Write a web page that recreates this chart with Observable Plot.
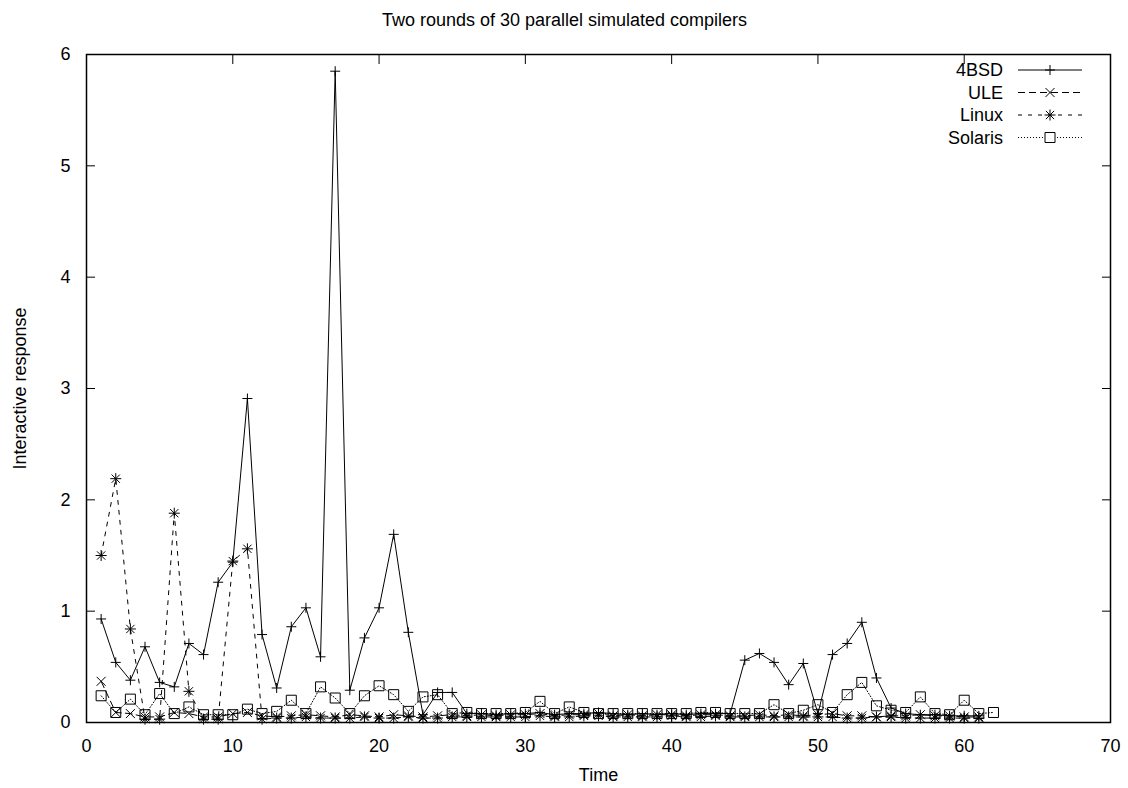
<!DOCTYPE html>
<html>
<head>
<meta charset="utf-8">
<script src="https://cdn.jsdelivr.net/npm/d3@7"></script>
<script src="https://cdn.jsdelivr.net/npm/@observablehq/plot@0.6"></script>
<style>
  html, body { margin: 0; padding: 0; background: #fff; }
  #wrap { position: relative; width: 1128px; height: 788px; }
  #wrap svg { position: absolute; left: 0; top: 0; }
</style>
</head>
<body>
<div id="wrap"></div>
<script>
const title = "Two rounds of 30 parallel simulated compilers";
const xLabel = "Time";
const yLabel = "Interactive response";
const xTicks = [0, 10, 20, 30, 40, 50, 60, 70];
const yTicks = [0, 1, 2, 3, 4, 5, 6];
const seriesNames = ["4BSD", "ULE", "Linux", "Solaris"];

const time = [1,2,3,4,5,6,7,8,9,10,11,12,13,14,15,16,17,18,19,20,21,22,23,24,25,26,27,28,29,30,
  31,32,33,34,35,36,37,38,39,40,41,42,43,44,45,46,47,48,49,50,51,52,53,54,55,56,57,58,59,60,61];
const timeSolaris = [1,2,3,4,5,6,7,8,9,10,11,12,13,14,15,16,17,18,19,20,21,22,23,24,25,26,27,28,29,30,
  31,32,33,34,35,36,37,38,39,40,41,42,43,44,45,46,47,48,49,50,51,52,53,54,55,56,57,58,59,60,61,62];

const bsd = [0.93,0.54,0.38,0.68,0.36,0.32,0.71,0.61,1.26,1.44,2.91,0.79,0.31,0.86,1.03,0.59,5.85,0.29,0.76,1.03,
  1.69,0.81,0.07,0.27,0.27,0.08,0.08,0.07,0.08,0.08,0.09,0.07,0.08,0.08,0.09,0.08,0.07,0.08,0.07,0.08,
  0.07,0.08,0.08,0.08,0.56,0.62,0.54,0.34,0.53,0.08,0.61,0.71,0.90,0.40,0.13,0.08,0.07,0.07,0.06,0.06,0.06];
const ule = [0.37,0.09,0.08,0.05,0.05,0.09,0.08,0.05,0.05,0.08,0.09,0.06,0.05,0.06,0.07,0.06,0.05,0.07,0.06,0.05,
  0.07,0.06,0.05,0.06,0.07,0.06,0.07,0.06,0.07,0.07,0.08,0.06,0.07,0.07,0.08,0.06,0.07,0.06,0.07,0.07,
  0.06,0.07,0.07,0.06,0.06,0.07,0.06,0.07,0.06,0.07,0.08,0.06,0.06,0.05,0.06,0.06,0.07,0.06,0.06,0.05,0.05];
const linux = [1.50,2.19,0.84,0.03,0.03,1.88,0.28,0.03,0.03,1.45,1.56,0.03,0.04,0.04,0.05,0.04,0.04,0.04,0.05,0.04,
  0.04,0.05,0.04,0.04,0.05,0.05,0.05,0.05,0.05,0.05,0.06,0.05,0.05,0.06,0.06,0.05,0.05,0.05,0.05,0.06,
  0.05,0.05,0.06,0.05,0.05,0.05,0.05,0.05,0.05,0.05,0.05,0.04,0.04,0.05,0.05,0.04,0.04,0.04,0.04,0.04,0.04];
const solaris = [0.24,0.09,0.21,0.07,0.26,0.08,0.14,0.07,0.07,0.07,0.12,0.08,0.10,0.20,0.08,0.32,0.22,0.08,0.24,0.33,
  0.25,0.10,0.23,0.25,0.08,0.09,0.08,0.08,0.08,0.09,0.19,0.08,0.14,0.09,0.08,0.08,0.08,0.08,0.08,0.08,
  0.08,0.09,0.09,0.08,0.08,0.08,0.16,0.08,0.11,0.16,0.09,0.25,0.36,0.15,0.11,0.09,0.23,0.08,0.07,0.20,0.08,0.09];

// gnuplot-like point symbols (r = half size in px)
const gpPlus = { draw(c, size) { const r = Math.sqrt(size / Math.PI); c.moveTo(-r, 0); c.lineTo(r, 0); c.moveTo(0, -r); c.lineTo(0, r); } };
const gpTimes = { draw(c, size) { const r = Math.sqrt(size / Math.PI); c.moveTo(-r, -r); c.lineTo(r, r); c.moveTo(-r, r); c.lineTo(r, -r); } };
const gpStar = { draw(c, size) { const r = Math.sqrt(size / Math.PI); const d = r * 0.75; c.moveTo(-r, 0); c.lineTo(r, 0); c.moveTo(0, -r); c.lineTo(0, r); c.moveTo(-d, -d); c.lineTo(d, d); c.moveTo(-d, d); c.lineTo(d, -d); } };
const gpSquare = { draw(c, size) { const r = Math.sqrt(size / Math.PI); c.moveTo(-r, -r); c.lineTo(r, -r); c.lineTo(r, r); c.lineTo(-r, r); c.closePath(); } };

const styles = [
  { symbol: gpPlus, r: 5, dash: null },
  { symbol: gpTimes, r: 4.5, dash: "7,4" },
  { symbol: gpStar, r: 5.5, dash: "4,6" },
  { symbol: gpSquare, r: 5, dash: "1,2" }
];

const mk = (xs, ys) => xs.map((t, i) => ({ t, v: ys[i] }));
const datasets = [mk(time, bsd), mk(time, ule), mk(time, linux), mk(timeSolaris, solaris)];

const font = "'Liberation Sans', Arial, Helvetica, sans-serif";
const FS = 18;

const marks = [
  Plot.frame({ stroke: "black", strokeWidth: 1.5 }),
  Plot.axisX({ anchor: "bottom", ticks: xTicks, tickSize: -9, tickPadding: 26, tickFormat: d3.format("d"), label: null, fontSize: FS }),
  Plot.axisX({ anchor: "top", ticks: xTicks, tickSize: -9, tickFormat: () => "", label: null }),
  Plot.axisY({ anchor: "left", ticks: yTicks, tickSize: -9, tickPadding: 25, tickFormat: d3.format("d"), label: null, fontSize: FS }),
  Plot.axisY({ anchor: "right", ticks: yTicks, tickSize: -9, tickFormat: () => "", label: null }),
  Plot.text([title], { frameAnchor: "top", dy: -34, dx: -34, fontSize: FS, textAnchor: "middle", lineAnchor: "middle" }),
  Plot.text([xLabel], { frameAnchor: "bottom", dy: 53, fontSize: FS, textAnchor: "middle", lineAnchor: "middle" }),
  Plot.text([yLabel], { frameAnchor: "left", dx: -66, rotate: -90, fontSize: FS, textAnchor: "middle", lineAnchor: "middle" })
];
datasets.forEach((d, i) => {
  const s = styles[i];
  marks.push(Plot.line(d, { x: "t", y: "v", stroke: "black", strokeWidth: 1, strokeDasharray: s.dash }));
  marks.push(Plot.dot(d, { x: "t", y: "v", symbol: s.symbol, r: s.r, fill: "none", stroke: "black", strokeWidth: 1 }));
});

const chart = Plot.plot({
  width: 1128, height: 788,
  marginLeft: 86, marginRight: 18, marginTop: 54, marginBottom: 66,
  x: { domain: [0, 70] },
  y: { domain: [0, 6] },
  style: { fontFamily: font, fontSize: FS + "px", color: "black", background: "white" },
  marks
});
document.getElementById("wrap").appendChild(chart);

// legend overlay (gnuplot key, top right inside frame)
const leg = d3.select("#wrap").append("svg")
  .attr("width", 1128).attr("height", 788)
  .style("pointer-events", "none")
  .attr("font-family", font).attr("font-size", FS);
seriesNames.forEach((name, i) => {
  const s = styles[i];
  const y = 70 + i * 22.5;
  leg.append("text").attr("x", 1003).attr("y", y).attr("dy", "0.35em").attr("text-anchor", "end").text(name);
  leg.append("line").attr("x1", 1018).attr("x2", 1082).attr("y1", y).attr("y2", y)
    .attr("stroke", "black").attr("stroke-width", 1).attr("stroke-dasharray", s.dash);
  leg.append("path").attr("transform", `translate(1050,${y})`)
    .attr("d", d3.symbol(s.symbol, Math.PI * s.r * s.r)())
    .attr("fill", s.symbol === gpSquare ? "white" : "none").attr("stroke", "black");
});
</script>
</body>
</html>
